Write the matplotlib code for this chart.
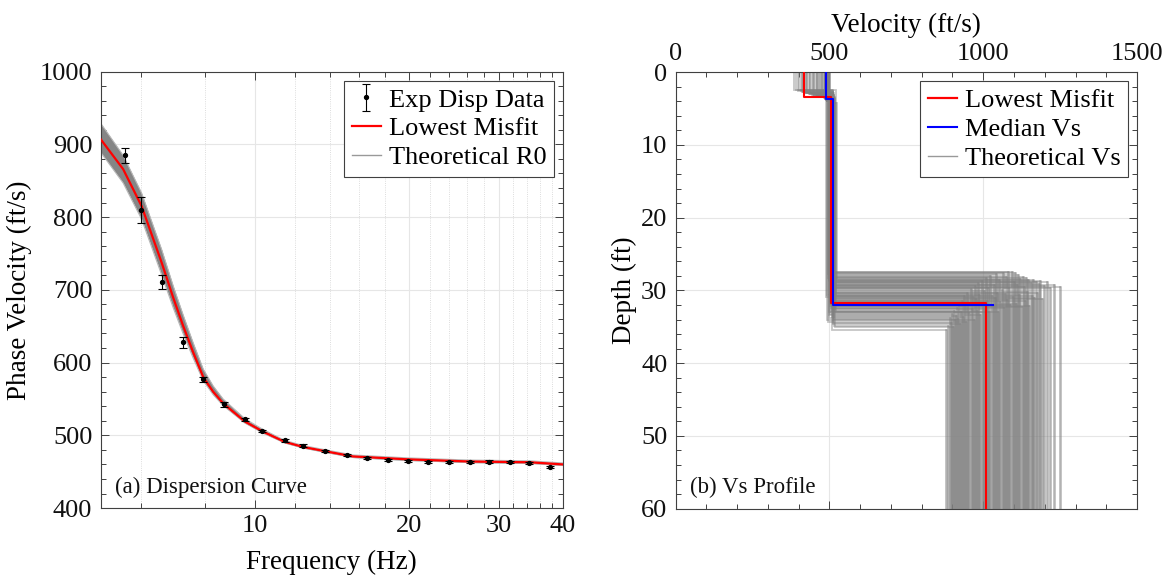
import numpy as np
import matplotlib
matplotlib.use("Agg")
import matplotlib.pyplot as plt
from matplotlib.ticker import FixedLocator, NullFormatter, MultipleLocator
from matplotlib.lines import Line2D

plt.rcParams['font.family'] = ['Liberation Serif', 'DejaVu Serif']

# ---------------- Dispersion data ----------------
exp_freq = [5.58, 6.00, 6.59, 7.23, 7.93, 8.70, 9.56, 10.35, 11.44, 12.42, 13.72,
            15.17, 16.59, 18.20, 19.91, 21.82, 23.93, 26.27, 28.73, 31.45, 34.40, 37.80]
exp_vel = [885, 810, 711, 628, 577, 542.5, 522, 506, 493, 486, 479,
           473, 469, 466.5, 465, 463, 463, 463, 464, 463, 461.5, 456]
exp_err = [10, 18, 9.5, 7.5, 3.5, 3, 2.5, 2, 2, 2, 1.5,
           1.5, 1.5, 1.5, 1.5, 1.5, 1.5, 1.5, 1.5, 1.5, 1.5, 1.5]

curve_freq = [5.00, 5.53, 6.01, 6.58, 6.93, 7.24, 7.58, 7.93, 8.29, 8.67,
              9.56, 10.38, 11.44, 12.43, 14.0, 15.55, 19.9, 26.3, 34.4, 40.0]
best_vel = [907, 866, 815, 737, 689, 651, 614, 580, 560, 544,
            519, 505, 491, 484, 477, 471, 467, 464, 463, 460]
theo_lo = [889, 847, 797, 720, 675, 640, 606, 575, 556, 541,
           517, 503, 489.5, 482.5, 475.5, 469.5, 465.5, 462.5, 461.5, 458.5]
theo_hi = [929, 885, 833, 755, 705, 666, 627, 591, 568, 550,
           523, 508, 493, 486, 479, 473, 469, 466, 465, 462]

freq_ticks = [10, 20, 30, 40]
freq_minor = [6, 8, 12, 14, 16, 18, 22, 24, 26, 28, 32, 34, 36, 38]

# ---------------- Vs profile data ----------------
best_vs = [418, 505, 1009]
best_dep = [3.4, 31.7]
median_vs = [489, 511, 1031]
median_dep = [3.7, 31.95]

vs1 = [492, 421, 488, 497, 455, 490, 384, 494, 472, 499,
       486, 437, 495, 491, 410, 489, 501, 466, 493, 398,
       490, 484, 447, 496, 492, 426, 488, 500, 479, 491,
       415, 494, 487, 460, 498, 490, 432, 493, 485, 402,
       496, 489, 475, 491, 443, 499, 487, 418, 494, 490,
       488, 451, 497, 492, 392, 486, 495, 469, 490, 502,
       428, 493, 489, 482, 496, 407, 491, 488, 458, 497,
       490, 494, 438, 487, 499, 492, 413, 489, 495, 477,
       493, 462, 488, 500, 491, 424, 496, 489, 449, 492]
dep1 = [3.6, 2.9, 3.8, 4.1, 3.2, 3.7, 2.5, 3.9, 3.4, 4.3,
        3.7, 3.0, 4.0, 3.8, 2.7, 3.6, 4.2, 3.3, 3.9, 2.6,
        3.8, 3.5, 3.1, 4.0, 3.7, 2.8, 3.6, 4.4, 3.4, 3.9,
        2.7, 3.8, 3.7, 3.3, 4.1, 3.6, 3.0, 3.9, 3.5, 2.4,
        4.0, 3.7, 3.4, 3.8, 3.1, 4.2, 3.6, 2.8, 3.9, 3.7,
        3.6, 3.2, 4.1, 3.8, 2.5, 3.5, 4.0, 3.3, 3.7, 4.3,
        2.9, 3.9, 3.6, 3.5, 4.0, 2.6, 3.8, 3.7, 3.2, 4.1,
        3.7, 3.9, 3.0, 3.6, 4.2, 3.8, 2.7, 3.6, 4.0, 3.4,
        3.8, 3.3, 3.7, 4.1, 3.8, 2.9, 4.0, 3.6, 3.1, 3.9]
vs2 = [508, 514, 497, 511, 503, 519, 509, 492, 512, 506,
       515, 501, 510, 498, 513, 507, 521, 510, 495, 512,
       504, 516, 509, 511, 488, 513, 506, 510, 518, 502,
       512, 499, 508, 514, 505, 511, 496, 513, 509, 520,
       507, 512, 501, 510, 515, 494, 511, 506, 513, 509,
       503, 514, 510, 497, 512, 508, 516, 505, 511, 500,
       513, 509, 517, 504, 510, 512, 491, 511, 507, 514,
       510, 502, 513, 508, 523, 511, 505, 512, 498, 509,
       514, 506, 511, 500, 512, 508, 515, 503, 510, 511]
dep2 = [35.4, 34.9, 33.8, 34.5, 33.2, 35.0, 32.8, 34.1, 33.5, 32.4,
        33.9, 31.9, 34.6, 32.9, 31.4, 33.6, 30.8, 32.2, 34.3, 30.4,
        31.7, 33.1, 29.8, 32.6, 30.9, 34.0, 29.4, 31.2, 32.8, 29.0,
        30.6, 33.4, 28.7, 31.9, 30.1, 32.5, 28.3, 31.5, 29.7, 33.0,
        28.0, 30.8, 32.2, 29.3, 31.1, 27.8, 30.3, 32.9, 28.6, 31.6,
        29.9, 27.6, 32.4, 30.5, 28.2, 31.3, 27.5, 29.6, 32.0, 27.4,
        30.9, 28.9, 27.6, 31.8, 29.2, 27.9, 30.6, 28.4, 32.3, 28.1,
        29.5, 31.4, 28.3, 30.2, 28.5, 32.1, 29.0, 30.7, 28.6, 31.0,
        28.8, 30.4, 29.1, 28.7, 31.2, 29.4, 28.9, 29.6, 29.2, 29.5]
vs3 = [879, 886, 892, 896, 899, 902, 905, 908, 911, 914,
       917, 921, 924, 927, 931, 934, 938, 941, 945, 948,
       952, 955, 959, 962, 966, 969, 973, 977, 980, 984,
       987, 991, 995, 998, 1002, 1005, 1009, 1013, 1016, 1020,
       1023, 1027, 1031, 1034, 1038, 1042, 1045, 1049, 1052, 1056,
       1060, 1063, 1067, 1070, 1074, 1078, 1081, 1085, 1088, 1092,
       1096, 1099, 1103, 1107, 1110, 1114, 1117, 1121, 1125, 1128,
       1132, 1136, 1139, 1143, 1147, 1150, 1154, 1158, 1162, 1166,
       1170, 1175, 1180, 1186, 1192, 1199, 1206, 1216, 1231, 1250]
max_depth = 60

FS = 19
LFS = 19.5
AX_COL = '0.25'

fig = plt.figure(figsize=(11.71, 5.82), dpi=100)
ax1 = fig.add_axes([0.086, 0.127, 0.3948, 0.75])
ax2 = fig.add_axes([0.577, 0.126, 0.394, 0.75])

def style(ax):
    for s in ax.spines.values():
        s.set_color(AX_COL)
        s.set_linewidth(0.8)
    ax.tick_params(which='both', direction='in', colors=AX_COL, labelcolor='#111111',
                   labelsize=FS, top=True, right=True, width=0.7)
    ax.tick_params(which='major', length=6)
    ax.tick_params(which='minor', length=3.5)
    ax.set_axisbelow(True)

# ---------------- Left: dispersion ----------------
style(ax1)
ax1.set_xscale('log')
ax1.set_xlim(5, 40)
ax1.set_ylim(400, 1000)
ax1.xaxis.set_major_locator(FixedLocator(freq_ticks))
ax1.set_xticklabels([str(t) for t in freq_ticks])
ax1.xaxis.set_minor_locator(FixedLocator(freq_minor))
ax1.xaxis.set_minor_formatter(NullFormatter())
ax1.yaxis.set_major_locator(MultipleLocator(100))
ax1.yaxis.set_minor_locator(MultipleLocator(20))
ax1.grid(which='major', color='0.9', lw=0.8)
ax1.grid(which='minor', axis='x', color='0.82', lw=0.6, ls=':')
ax1.tick_params(axis='x', pad=5)
ax1.tick_params(axis='y', pad=6)

ax1.fill_between(curve_freq, theo_lo, theo_hi, color='0.52', lw=0, zorder=2)
ax1.plot(curve_freq, theo_lo, color='0.72', lw=0.8, zorder=2)
ax1.plot(curve_freq, theo_hi, color='0.72', lw=0.8, zorder=2)
ax1.plot(curve_freq, best_vel, color='#ff0000', lw=1.6, zorder=3)
eb = ax1.errorbar(exp_freq, exp_vel, yerr=exp_err, fmt='o', color='black', ms=2.8,
                  elinewidth=0.8, capsize=3, capthick=0.8, zorder=4)

h_theo = Line2D([], [], color='0.6', lw=1)
h_red = Line2D([], [], color='#ff0000', lw=1.6)
leg1 = ax1.legend([eb, h_red, h_theo], ['Exp Disp Data', 'Lowest Misfit', 'Theoretical R0'],
                  loc='upper right', fontsize=FS, frameon=True, fancybox=False,
                  edgecolor=AX_COL, framealpha=1, borderaxespad=0.35,
                  handlelength=1.1, handletextpad=0.3, borderpad=0.28, labelspacing=0.2)
leg1.get_frame().set_linewidth(0.8)

ax1.set_xlabel('Frequency (Hz)', fontsize=LFS)
ax1.set_ylabel('Phase Velocity (ft/s)', fontsize=LFS)
ax1.xaxis.set_label_coords(0.5, -0.095)
ax1.yaxis.set_label_coords(-0.149, 0.5)
ax1.text(0.031, 0.048, '(a) Dispersion Curve', transform=ax1.transAxes,
         fontsize=16.5, va='center', ha='left', color='#111111')

# ---------------- Right: Vs profiles ----------------
style(ax2)
ax2.set_xlim(0, 1500)
ax2.set_ylim(60, 0)
ax2.xaxis.set_major_locator(MultipleLocator(500))
ax2.xaxis.set_minor_locator(MultipleLocator(100))
ax2.yaxis.set_major_locator(MultipleLocator(10))
ax2.yaxis.set_minor_locator(MultipleLocator(2))
ax2.tick_params(axis='x', which='both', top=True, bottom=True, labeltop=True, labelbottom=False, pad=5.5)
ax2.tick_params(axis='y', pad=6)
ax2.grid(which='major', color='0.9', lw=0.8)

for a, b, c, d, e in zip(vs1, dep1, vs2, dep2, vs3):
    # layers above the half-space
    ax2.plot([a, a, c, c, e], [0, b, b, d, d],
             color='0.5', lw=1.3, alpha=0.45, zorder=2, solid_joinstyle='miter')
    # half-space
    ax2.plot([e, e], [d, max_depth], color='0.5', lw=1.8, alpha=0.6, zorder=2)

ax2.plot([best_vs[0], best_vs[0], best_vs[1], best_vs[1], best_vs[2], best_vs[2]],
         [0, best_dep[0], best_dep[0], best_dep[1], best_dep[1], max_depth],
         color='#ff0000', lw=1.5, zorder=3)
ax2.plot([median_vs[0], median_vs[0], median_vs[1], median_vs[1], median_vs[2]],
         [0, median_dep[0], median_dep[0], median_dep[1], median_dep[1]],
         color='#0000ff', lw=1.5, zorder=4)

h_blue = Line2D([], [], color='#0000ff', lw=1.5)
h_gray = Line2D([], [], color='0.6', lw=1)
leg2 = ax2.legend([h_red, h_blue, h_gray], ['Lowest Misfit', 'Median Vs', 'Theoretical Vs'],
                  loc='upper right', fontsize=FS, frameon=True, fancybox=False,
                  edgecolor=AX_COL, framealpha=1, borderaxespad=0.35,
                  handlelength=1.1, handletextpad=0.3, borderpad=0.28, labelspacing=0.2)
leg2.get_frame().set_linewidth(0.8)

ax2.set_xlabel('Velocity (ft/s)', fontsize=LFS)
ax2.xaxis.set_label_position('top')
ax2.set_ylabel('Depth (ft)', fontsize=LFS)
ax2.xaxis.set_label_coords(0.5, 1.093)
ax2.yaxis.set_label_coords(-0.084, 0.5)
ax2.text(0.031, 0.048, '(b) Vs Profile', transform=ax2.transAxes,
         fontsize=16.5, va='center', ha='left', color='#111111')

fig.savefig('out.png', dpi=100)
